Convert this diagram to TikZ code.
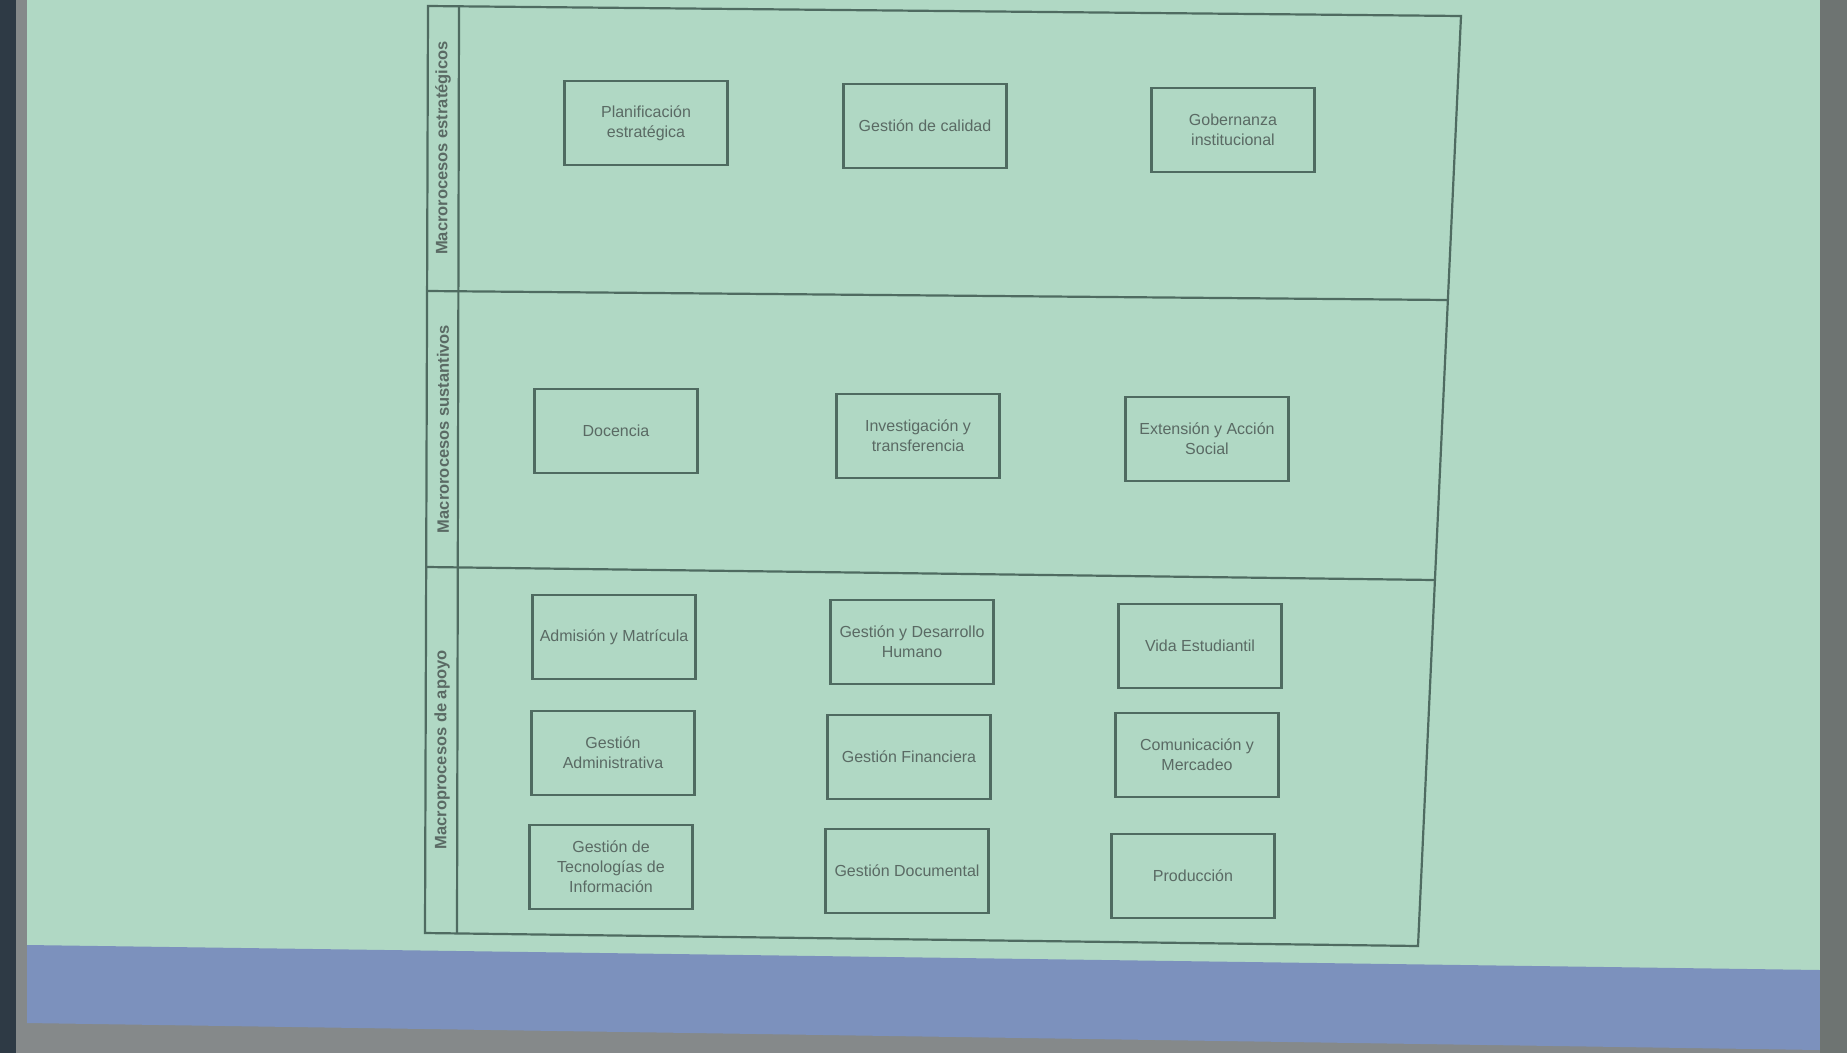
\documentclass[tikz,border=0pt]{standalone}
\usepackage{fontspec}
\setmainfont{Liberation Sans}
\definecolor{pantalla}{HTML}{B0D8C4}
\definecolor{banda}{HTML}{7C91BD}
\definecolor{piso}{HTML}{85898A}
\definecolor{borde}{HTML}{2E3A45}
\definecolor{lado}{HTML}{6E7472}
\definecolor{linea}{HTML}{4F6B61}
\definecolor{texto}{HTML}{5A6A64}

\begin{document}
\begin{tikzpicture}[x=1pt,y=-1pt,
  proceso/.style={draw=linea, line width=2.2pt, minimum width=163pt, minimum height=84pt,
    align=center, text=texto, font=\fontsize{16}{20}\selectfont},
  carril/.style={rotate=90, text=texto, font=\bfseries\fontsize{16.5}{18}\selectfont},
  marco/.style={draw=linea, line width=2.2pt}]
\useasboundingbox (0,0) rectangle (1847,1053);
% pantalla
\fill[piso] (0,0) rectangle (1847,1053);
\fill[pantalla] (27,0) rectangle (1820,975);
\fill[banda] (27,945) -- (1820,970) -- (1820,1050) -- (27,1023) -- cycle;
\fill[borde] (0,0) rectangle (16,1053);
\fill[lado] (1820,0) rectangle (1847,1053);

% marco y carriles
\draw[marco] (428,6) -- (1461,16) -- (1418,946) -- (425,933) -- cycle;
\draw[marco] (459,6) -- (457,933);
\draw[marco] (428,291) -- (1448,300);
\draw[marco] (427,567) -- (1434,580);

\node[carril] (lab1) at (443,148) {Macrorocesos estratégicos};
\node[carril] (lab2) at (443,429) {Macrorocesos sustantivos};
\node[carril] (lab3) at (442,750) {Macroprocesos de apoyo};

% estrategicos
\node[proceso] (plan) at (646,123) {Planificación\\estratégica};
\node[proceso] (calidad) at (925,126) {Gestión de calidad};
\node[proceso] (gober) at (1233,130) {Gobernanza\\institucional};

% sustantivos
\node[proceso] (docencia) at (616,431) {Docencia};
\node[proceso] (invest) at (918,436) {Investigación y\\transferencia};
\node[proceso] (extension) at (1207,439) {Extensión y Acción\\Social};

% apoyo
\node[proceso] (admision) at (614,637) {Admisión y Matrícula};
\node[proceso] (humano) at (912,642) {Gestión y Desarrollo\\Humano};
\node[proceso] (vida) at (1200,646) {Vida Estudiantil};
\node[proceso] (admin) at (613,753) {Gestión\\Administrativa};
\node[proceso] (finan) at (909,757) {Gestión Financiera};
\node[proceso] (comun) at (1197,755) {Comunicación y\\Mercadeo};
\node[proceso] (tecno) at (611,867) {Gestión de\\Tecnologías de\\Información};
\node[proceso] (docum) at (907,871) {Gestión Documental};
\node[proceso] (produc) at (1193,876) {Producción};
\end{tikzpicture}
\end{document}
